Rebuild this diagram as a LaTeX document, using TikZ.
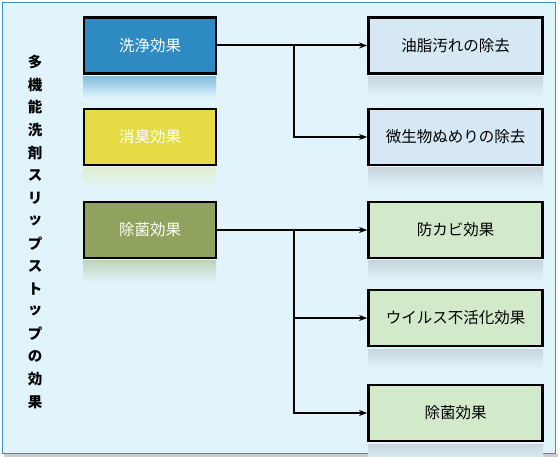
\documentclass[tikz,border=0pt]{standalone}
\usepackage{fontspec}
\setmainfont{Noto Sans CJK JP}
\usetikzlibrary{arrows.meta}
\definecolor{bgc}{HTML}{E1F4FC}
\definecolor{framec}{HTML}{3B8FC6}
\definecolor{bluec}{HTML}{2E8BC2}
\definecolor{yellowc}{HTML}{E6DB45}
\definecolor{olivec}{HTML}{8FA35E}
\definecolor{lbluec}{HTML}{D7E8F5}
\definecolor{lgreenc}{HTML}{D2E9CA}
\tikzset{
  x=1pt,y=-1pt,
  mainbox/.style={draw=black,line width=2.8pt,minimum width=132pt,minimum height=56pt,inner sep=0pt,text=white,font=\fontsize{15.5}{17}\selectfont},
  subbox/.style={draw=black,line width=2.8pt,minimum width=174pt,minimum height=56pt,inner sep=0pt,text=black,font=\fontsize{15.5}{17}\selectfont},
  conn/.style={line width=2pt,-{Stealth[length=8pt,width=6pt]}},
  vchar/.style={font=\bfseries\fontsize{14.5}{16}\selectfont,inner sep=0pt}
}
\begin{document}
\begin{tikzpicture}
\useasboundingbox (0,0) rectangle (560,457);
\fill[gray!40] (4,454) rectangle (558,457);
\fill[bgc,draw=framec,line width=1.2pt] (2.5,2.5) rectangle (555.5,453.5);
% reflections
\shade[top color=bluec!50!bgc,bottom color=bgc] (83,77) rectangle (216,98);
\shade[top color=yellowc!25!bgc,bottom color=bgc] (83,168) rectangle (216,189);
\shade[top color=olivec!40!bgc,bottom color=bgc] (83,261) rectangle (216,282);
\foreach \yy in {77,168,261,349,444}{
  \shade[top color=gray!25!bgc,bottom color=bgc] (368,\yy) rectangle (543,\yy+21);
}
% vertical title
\foreach \c [count=\i] in {多,機,能,洗,剤,ス,リ,ッ,プ,ス,ト,ッ,プ,の,効,果}{
  \node[vchar] (v\i) at (35,{62+(\i-1)*22.67}) {\c};
}
% main boxes
\node[mainbox,fill=bluec] (m1) at (150,45.5) {洗浄効果};
\node[mainbox,fill=yellowc] (m2) at (150,137) {消臭効果};
\node[mainbox,fill=olivec] (m3) at (150,230) {除菌効果};
% sub boxes
\node[subbox,fill=lbluec] (s1) at (455.5,45.5) {油脂汚れの除去};
\node[subbox,fill=lbluec] (s2) at (455.5,137) {微生物ぬめりの除去};
\node[subbox,fill=lgreenc] (s3) at (455.5,230) {防カビ効果};
\node[subbox,fill=lgreenc] (s4) at (455.5,318) {ウイルス不活化効果};
\node[subbox,fill=lgreenc] (s5) at (455.5,413) {除菌効果};
% connectors
\coordinate (b1) at (294,45.5);
\coordinate (b2) at (294,230);
\draw[conn] (m1.east) -- (s1.west);
\draw[conn] (b1) |- (s2.west);
\draw[conn] (m3.east) -- (s3.west);
\draw[conn] (b2) |- (s4.west);
\draw[conn] (b2) |- (s5.west);
\end{tikzpicture}
\end{document}
